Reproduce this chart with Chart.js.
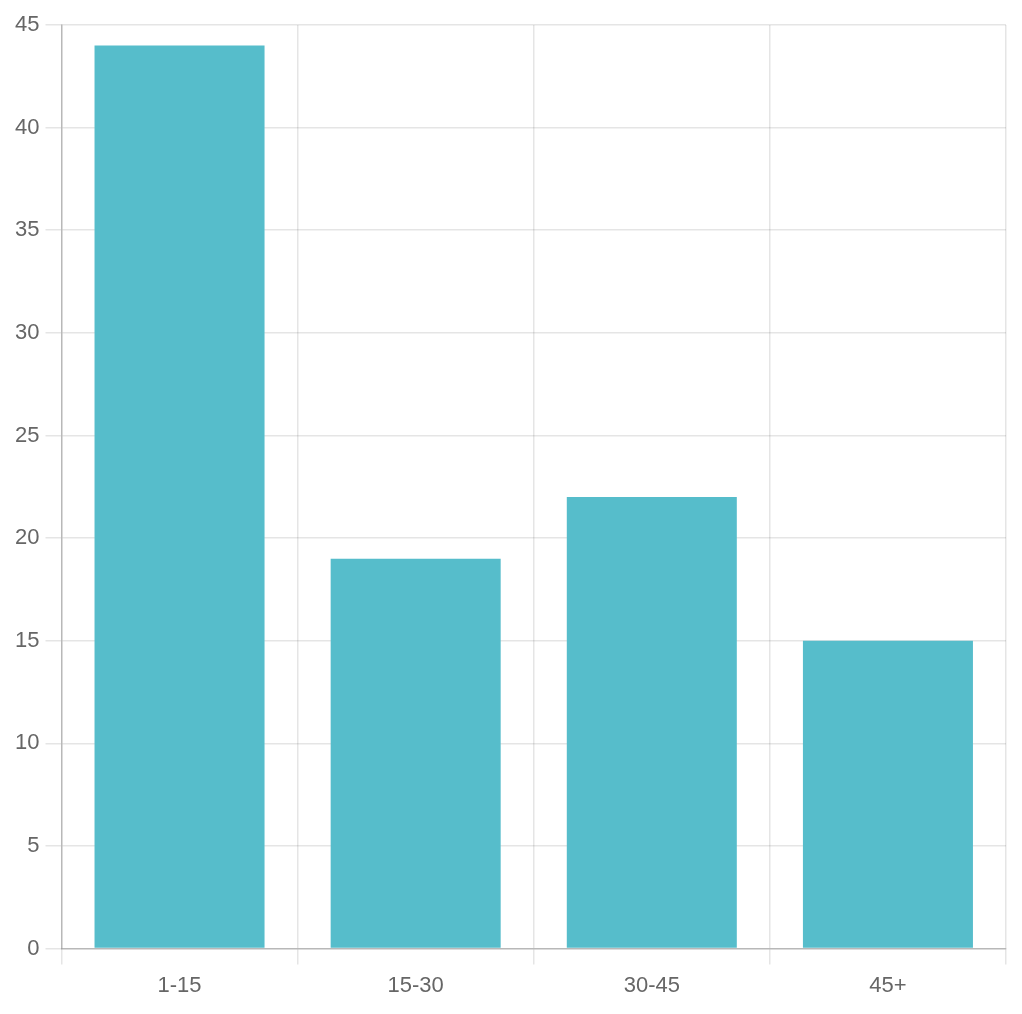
<!DOCTYPE html>
<html>
<head>
<meta charset="utf-8">
<script src="https://cdn.jsdelivr.net/npm/chart.js@4/dist/chart.umd.min.js"></script>
<style>
  html, body { margin: 0; padding: 0; background: #fff; }
  #chart { display: block; }
</style>
</head>
<body>
<canvas id="chart" width="1022" height="1014"></canvas>
<script>
// age groups and counts
const categories = ['1-15', '15-30', '30-45', '45+'];
const counts = [44, 19, 22, 15];
const yTicks = [0, 5, 10, 15, 20, 25, 30, 35, 40, 45];

const gridColor = 'rgba(0,0,0,0.1)';
const tickFont = { family: '"Liberation Sans", Arial, sans-serif', size: 22 };

new Chart(document.getElementById('chart'), {
  type: 'bar',
  data: {
    labels: categories,
    datasets: [{
      data: counts,
      backgroundColor: '#56bdcb',
      borderWidth: 0,
    }],
  },
  options: {
    responsive: false,
    animation: false,
    devicePixelRatio: 1,
    layout: { padding: { top: 25, left: 9, right: 16, bottom: 7 } },
    plugins: { legend: { display: false }, tooltip: { enabled: false } },
    scales: {
      x: {
        grid: { color: gridColor, tickLength: 16, lineWidth: 1.5 },
        border: { color: 'rgba(0,0,0,0.2)', width: 1.5 },
        ticks: { color: '#666', font: tickFont, padding: 8 },
      },
      y: {
        min: 0,
        max: 45,
        afterBuildTicks: (axis) => { axis.ticks = yTicks.map(v => ({ value: v })); },
        grid: { color: gridColor, tickLength: 16, lineWidth: 1.5 },
        border: { color: 'rgba(0,0,0,0.2)', width: 1.5 },
        ticks: { color: '#666', font: tickFont, padding: 6 },
      },
    },
  },
});
</script>
</body>
</html>
